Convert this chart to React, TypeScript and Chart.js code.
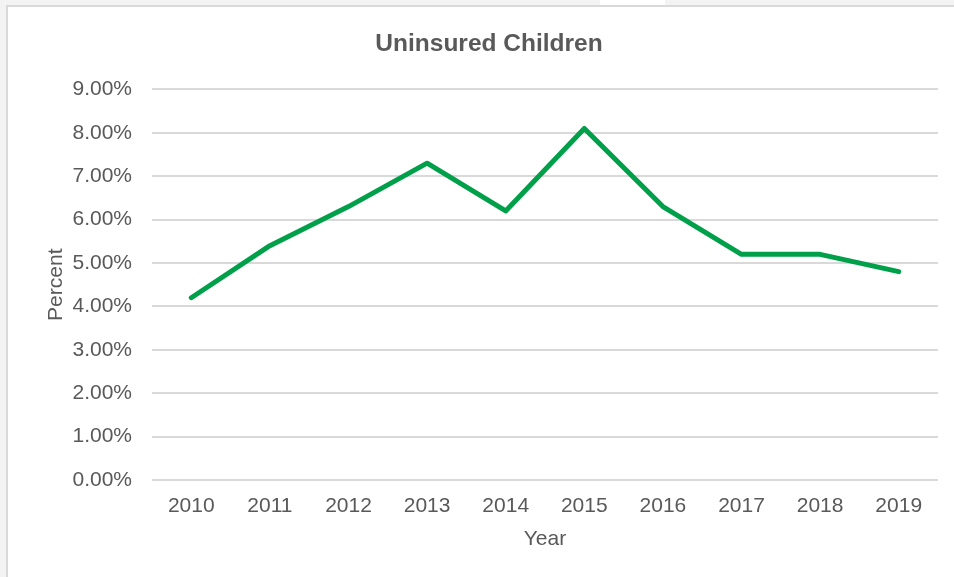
import React, { useEffect, useRef } from "react";
import { Chart, registerables } from "chart.js";

Chart.register(...registerables);

const years: string[] = ["2010", "2011", "2012", "2013", "2014", "2015", "2016", "2017", "2018", "2019"];
const uninsuredPct: number[] = [4.2, 5.4, 6.3, 7.3, 6.2, 8.1, 6.3, 5.2, 5.2, 4.8];
const chartTitle = "Uninsured Children";
const yAxisTitle = "Percent";
const xAxisTitle = "Year";
const yMin = 0;
const yMax = 9;
const yStep = 1;

const FONT = "'Liberation Sans', Arial, Helvetica, sans-serif";
const TEXT = "#595959";
const GREEN = "#00A04A";

export default function App() {
  const ref = useRef<HTMLCanvasElement | null>(null);

  useEffect(() => {
    if (!ref.current) return;
    const chart = new Chart(ref.current, {
      type: "line",
      data: {
        labels: years,
        datasets: [
          {
            label: chartTitle,
            data: uninsuredPct,
            borderColor: GREEN,
            backgroundColor: GREEN,
            borderWidth: 5,
            borderCapStyle: "round",
            borderJoinStyle: "round",
            pointRadius: 0,
            pointHoverRadius: 0,
            tension: 0,
            fill: false,
          },
        ],
      },
      options: {
        responsive: false,
        animation: false,
        events: [],
        layout: { padding: { left: 40, right: 16, top: 0, bottom: 21 } },
        plugins: {
          legend: { display: false },
          tooltip: { enabled: false },
          title: {
            display: true,
            text: chartTitle,
            color: TEXT,
            font: { family: FONT, size: 24.5, weight: "bold" },
            padding: { top: 30, bottom: 30 },
          },
        },
        scales: {
          x: {
            offset: true,
            grid: { display: false, drawTicks: false },
            border: { display: false },
            ticks: {
              color: TEXT,
              font: { family: FONT, size: 21 },
              padding: 14,
              maxRotation: 0,
              autoSkip: false,
            },
            title: {
              display: true,
              text: xAxisTitle,
              color: TEXT,
              font: { family: FONT, size: 21 },
              padding: { top: 4, bottom: 4 },
            },
            afterFit: (scale: any) => {
              scale.height = 76;
            },
          },
          y: {
            min: yMin,
            max: yMax,
            grid: { color: "#d9d9d9", lineWidth: 2, drawTicks: false },
            border: { display: false },
            ticks: {
              stepSize: yStep,
              color: TEXT,
              font: { family: FONT, size: 21 },
              padding: 20,
              callback: (v: any) => Number(v).toFixed(2) + "%",
            },
            title: {
              display: true,
              text: yAxisTitle,
              color: TEXT,
              font: { family: FONT, size: 21 },
              padding: { top: 4, bottom: 4 },
            },
            afterFit: (scale: any) => {
              scale.width = 112;
            },
          },
        },
      },
    });
    return () => chart.destroy();
  }, []);

  return (
    <div style={{ position: "absolute", left: 0, top: 0, width: 954, height: 577, background: "#f3f3f3", overflow: "hidden" }}>
      <div style={{ position: "absolute", left: 600, top: 0, width: 65, height: 5, background: "#ffffff" }} />
      <div
        style={{
          position: "absolute",
          left: 6,
          top: 5,
          width: 960,
          height: 590,
          background: "#ffffff",
          border: "2px solid #d9d9d9",
          boxSizing: "border-box",
        }}
      />
      <canvas
        ref={ref}
        width={954}
        height={577}
        style={{ position: "absolute", left: 0, top: 0, width: 954, height: 577 }}
      />
    </div>
  );
}
